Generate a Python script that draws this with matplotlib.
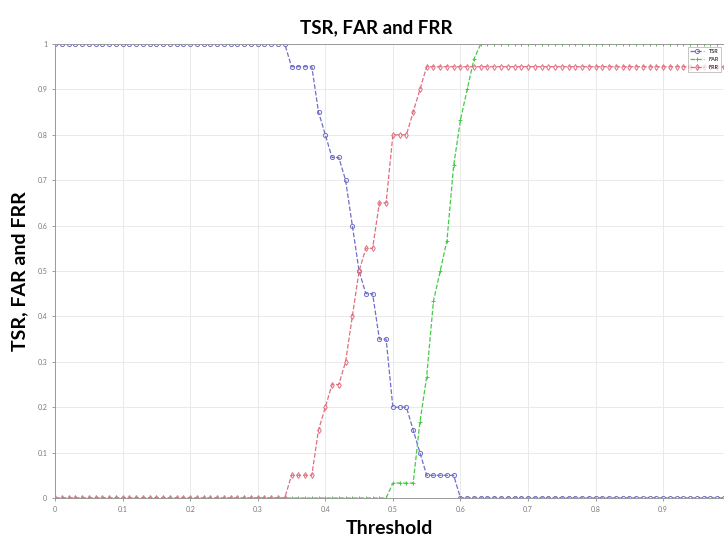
import numpy as np
import matplotlib
matplotlib.use("Agg")
import matplotlib.pyplot as plt

thresholds = [round(i * 0.01, 2) for i in range(100)]
tsr = ([1.0] * 35 + [0.95] * 4 + [0.85, 0.80, 0.75, 0.75, 0.70, 0.60, 0.50, 0.45, 0.45,
        0.35, 0.35, 0.20, 0.20, 0.20, 0.15, 0.10] + [0.05] * 5 + [0.0] * 40)
far = ([0.0] * 50 + [0.033] * 4 + [0.167, 0.267, 0.433, 0.5, 0.567, 0.733, 0.833, 0.9, 0.967]
       + [1.0] * 37)
frr = ([0.0] * 35 + [0.05] * 4 + [0.15, 0.20, 0.25, 0.25, 0.30, 0.40, 0.50, 0.55, 0.55,
        0.65, 0.65, 0.80, 0.80, 0.80, 0.85, 0.90] + [0.95] * 45)
labels = ["TSR", "FAR", "FRR"]
xticks = [0, 0.1, 0.2, 0.3, 0.4, 0.5, 0.6, 0.7, 0.8, 0.9]
xticklabels = ["0", "0.1", "0.2", "0.3", "0.4", "0.5", "0.6", "0.7", "0.8", "0.9"]
yticks = [0, 0.1, 0.2, 0.3, 0.4, 0.5, 0.6, 0.7, 0.8, 0.9, 1.0]
yticklabels = ["0", "0.1", "0.2", "0.3", "0.4", "0.5", "0.6", "0.7", "0.8", "0.9", "1"]

plt.rcParams['font.family'] = ['Lato', 'DejaVu Sans']
fig = plt.figure(figsize=(7.24, 5.44), dpi=100)
ax = fig.add_axes([55/724, 46/544, 1 - 55/724, 454/544])

ax.plot(thresholds, tsr, linestyle='--', color='#6f6fc8', lw=0.9, marker='o', ms=3,
        mfc='none', mew=0.7, label=labels[0])
ax.plot(thresholds, far, linestyle='--', color='#44cc44', lw=0.9, marker='+', ms=3.5,
        mew=0.7, label=labels[1])
ax.plot(thresholds, frr, linestyle='--', color='#e07080', lw=0.9, marker='d', ms=3,
        mfc='none', mew=0.7, label=labels[2])

ax.set_xlim(0, 0.99)
ax.set_ylim(0, 1)
ax.set_xticks(xticks)
ax.set_xticklabels(xticklabels, fontsize=5, color='#555555')
ax.set_yticks(yticks)
ax.set_yticklabels(yticklabels, fontsize=5, color='#555555')
ax.tick_params(length=2, width=0.5, colors='#777777')
ax.grid(True, color='#e6e6e6', lw=0.6)
for s in ax.spines.values():
    s.set_color('#999999')
    s.set_linewidth(0.7)

ax.set_title("TSR, FAR and FRR", fontsize=13.5, fontweight='bold', pad=8, x=0.48)
ax.set_xlabel("Threshold", fontsize=14, fontweight='bold', labelpad=5)
ax.set_ylabel("TSR, FAR and FRR", fontsize=14, fontweight='bold', labelpad=7)

leg = ax.legend(loc='upper right', fontsize=4, frameon=True, borderpad=0.4,
                handlelength=2.5, fancybox=False, edgecolor='#999999')
leg.get_frame().set_linewidth(0.5)

fig.savefig("out.png", dpi=100)
